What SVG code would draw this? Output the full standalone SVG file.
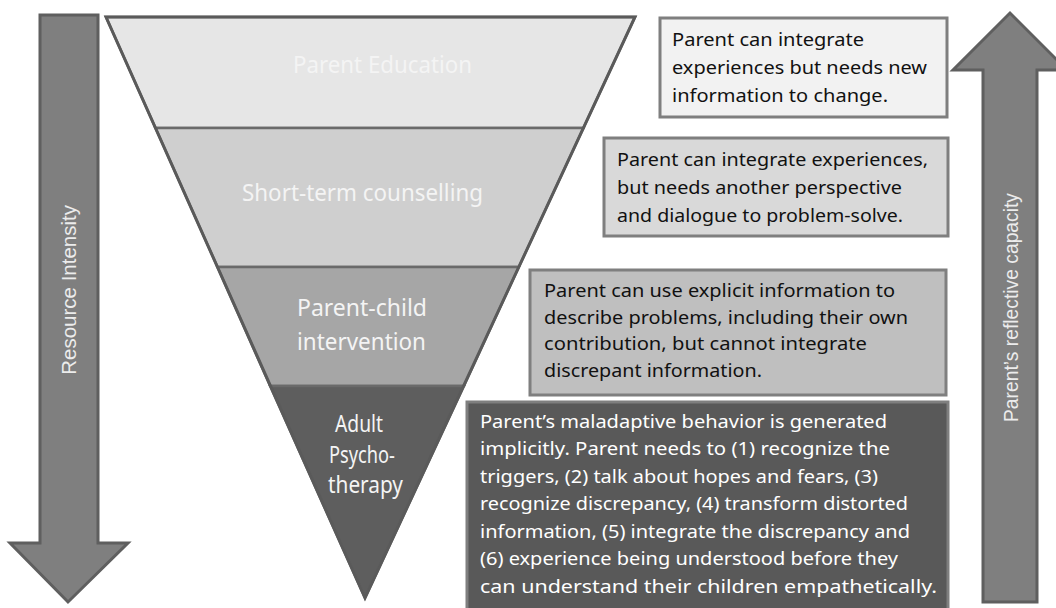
<svg xmlns="http://www.w3.org/2000/svg" width="1056" height="608" viewBox="0 0 1056 608">
  <style>
    .axis { fill: #7f7f7f; stroke: #5f5f5f; stroke-width: 3; stroke-linejoin: miter; }
    .axis-label { font-family: "Liberation Sans", Arial, sans-serif; fill: #ececec; }
    .band { stroke: #6a6a6a; stroke-width: 2.5; stroke-linejoin: miter; }
    .band-label { font-family: "Noto Sans", "Open Sans", sans-serif; font-size: 23px; fill: #f4f4f4; }
    .box { stroke: #7f7f7f; stroke-width: 3; }
    .box-text { font-family: "Noto Sans", "Open Sans", sans-serif; font-size: 18.5px; fill: #111111; }
    .box-text.light { fill: #ffffff; }
  </style>

  <rect width="1056" height="608" fill="#ffffff"/>

  <!-- side arrows -->
  <g id="axes">
    <g id="resource-intensity">
      <polygon class="axis" points="40,15 98,15 98,543 128,543 68,602 10,543 40,543"/>
      <text class="axis-label" font-size="20.5" transform="translate(76,205) rotate(-90)" text-anchor="end">Resource Intensity</text>
    </g>
    <g id="reflective-capacity">
      <polygon class="axis" points="983,602 1037,602 1037,70 1067,70 1010,13 953,70 983,70"/>
      <text class="axis-label" font-size="19.3" transform="translate(1018,422) rotate(-90)" textLength="229" lengthAdjust="spacingAndGlyphs">Parent’s reflective capacity</text>
    </g>
  </g>

  <!-- inverted pyramid of services -->
  <g id="pyramid">
    <g id="band-education">
      <polygon class="band" fill="#e6e6e6" points="106,17 635,17 583.4,128 155.5,128"/>
      <text class="band-label" x="293" y="73" textLength="179" lengthAdjust="spacingAndGlyphs">Parent Education</text>
    </g>
    <g id="band-counselling">
      <polygon class="band" fill="#cfcfcf" points="155.5,128 583.4,128 518.8,267 217.5,267"/>
      <text class="band-label" x="242" y="201" textLength="241" lengthAdjust="spacingAndGlyphs">Short-term counselling</text>
    </g>
    <g id="band-parent-child">
      <polygon class="band" fill="#a6a6a6" points="217.5,267 518.8,267 464,386 270.1,386"/>
      <text class="band-label" x="297" y="316" textLength="130" lengthAdjust="spacingAndGlyphs">Parent-child</text>
      <text class="band-label" x="297" y="350" textLength="129" lengthAdjust="spacingAndGlyphs">intervention</text>
    </g>
    <g id="band-psychotherapy">
      <polygon class="band" fill="#5e5e5e" points="270.1,386 464,386 365,598"/>
      <text class="band-label" x="335" y="432" textLength="48" lengthAdjust="spacingAndGlyphs">Adult</text>
      <text class="band-label" x="329" y="463" textLength="66" lengthAdjust="spacingAndGlyphs">Psycho-</text>
      <text class="band-label" x="328" y="493" textLength="75" lengthAdjust="spacingAndGlyphs">therapy</text>
    </g>
    <polygon points="106,17 635,17 365,598" fill="none" stroke="#5a5a5a" stroke-width="3" stroke-linejoin="miter"/>
  </g>

  <!-- description boxes -->
  <g id="desc-education">
    <rect class="box" x="660" y="18" width="287" height="99" fill="#f2f2f2"/>
    <text class="box-text" x="672" y="46" textLength="192" lengthAdjust="spacingAndGlyphs">Parent can integrate</text>
    <text class="box-text" x="672" y="74" textLength="255" lengthAdjust="spacingAndGlyphs">experiences but needs new</text>
    <text class="box-text" x="672" y="102" textLength="216" lengthAdjust="spacingAndGlyphs">information to change.</text>
  </g>

  <g id="desc-counselling">
    <rect class="box" x="604" y="138" width="344" height="98" fill="#d9d9d9"/>
    <text class="box-text" x="617" y="166" textLength="311" lengthAdjust="spacingAndGlyphs">Parent can integrate experiences,</text>
    <text class="box-text" x="617" y="194" textLength="285" lengthAdjust="spacingAndGlyphs">but needs another perspective</text>
    <text class="box-text" x="617" y="222" textLength="286" lengthAdjust="spacingAndGlyphs">and dialogue to problem-solve.</text>
  </g>

  <g id="desc-parent-child">
    <rect class="box" x="530" y="270" width="416" height="125" fill="#bfbfbf"/>
    <text class="box-text" x="544" y="297" textLength="351" lengthAdjust="spacingAndGlyphs">Parent can use explicit information to</text>
    <text class="box-text" x="544" y="324" textLength="364" lengthAdjust="spacingAndGlyphs">describe problems, including their own</text>
    <text class="box-text" x="544" y="350" textLength="323" lengthAdjust="spacingAndGlyphs">contribution, but cannot integrate</text>
    <text class="box-text" x="544" y="377" textLength="218" lengthAdjust="spacingAndGlyphs">discrepant information.</text>
  </g>

  <g id="desc-psychotherapy">
    <rect class="box" x="467" y="402" width="481" height="212" fill="#595959"/>
    <text class="box-text light" x="480" y="428" textLength="407" lengthAdjust="spacingAndGlyphs">Parent’s maladaptive behavior is generated</text>
    <text class="box-text light" x="480" y="455" textLength="410" lengthAdjust="spacingAndGlyphs">implicitly. Parent needs to (1)  recognize the</text>
    <text class="box-text light" x="480" y="483" textLength="398" lengthAdjust="spacingAndGlyphs">triggers, (2) talk about hopes and fears, (3)</text>
    <text class="box-text light" x="480" y="510" textLength="428" lengthAdjust="spacingAndGlyphs">recognize discrepancy, (4) transform distorted</text>
    <text class="box-text light" x="480" y="538" textLength="430" lengthAdjust="spacingAndGlyphs">information, (5) integrate the discrepancy and</text>
    <text class="box-text light" x="480" y="565" textLength="418" lengthAdjust="spacingAndGlyphs">(6) experience being understood before they</text>
    <text class="box-text light" x="480" y="593" textLength="457" lengthAdjust="spacingAndGlyphs">can understand their children empathetically.</text>
  </g>
</svg>
